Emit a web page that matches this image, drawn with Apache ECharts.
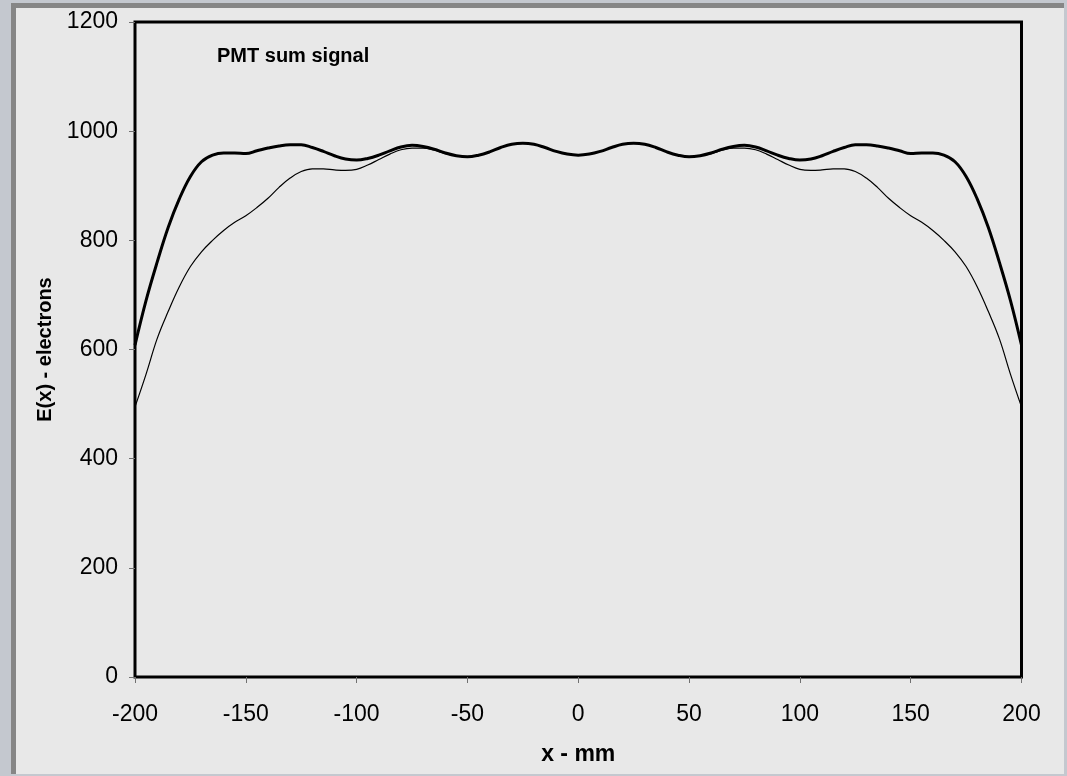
<!DOCTYPE html>
<html>
<head>
<meta charset="utf-8">
<script src="https://cdn.jsdelivr.net/npm/echarts@6/dist/echarts.min.js"></script>
<style>
  html, body { margin: 0; padding: 0; width: 1067px; height: 776px; overflow: hidden; background: #c4c8cf; }
  #frame { position: absolute; left: 11px; top: 3px; width: 1053px; height: 771px; box-sizing: border-box;
           border-left: 5px solid #868686; border-top: 5px solid #868686; background: #e8e8e8; }
  #chart { position: absolute; left: 0; top: 0; width: 1067px; height: 776px; }
</style>
</head>
<body>
<div id="frame"></div>
<div id="chart"></div>
<script>
const titleText = 'PMT sum signal';
const xName = 'x - mm';
const yName = 'E(x) - electrons';

const xPositions = [-200,-195,-190,-185,-180,-175,-170,-165,-160,-155,-150,-145,-140,-135,-130,-125,-120,-115,-110,-105,-100,-95,-90,-85,-80,-75,-70,-65,-60,-55,-50,-45,-40,-35,-30,-25,-20,-15,-10,-5,0,5,10,15,20,25,30,35,40,45,50,55,60,65,70,75,80,85,90,95,100,105,110,115,120,125,130,135,140,145,150,155,160,165,170,175,180,185,190,195,200];

const thickSignal = [608,690,760,824,876,917,944,956,960,960,959,964,969,973,975,975,970,963,955,949,947,950,956,964,971,974,972,967,960,955,953,956,962,970,976,978,976,970,963,958,956,958,963,970,976,978,976,970,962,956,953,955,960,967,972,974,971,964,956,950,947,949,955,963,970,975,975,973,969,964,959,960,960,956,944,917,876,824,760,690,608];

const thinSignal = [495,555,620,670,715,752,779,800,818,833,845,860,877,897,914,926,931,931,929,928,930,938,948,958,966,969,969,965,959,955,953,956,962,970,976,978,976,970,963,958,956,958,963,970,976,978,976,970,962,956,953,955,959,965,969,969,966,958,948,938,930,928,929,931,931,926,914,897,877,860,845,833,818,800,779,752,715,670,620,555,495];

const xMin = -200, xMax = 200, xStep = 50;
const yMin = 0, yMax = 1200, yStep = 200;

const chart = echarts.init(document.getElementById('chart'), null, { renderer: 'canvas' });
const font = '"Liberation Sans", Arial, sans-serif';

chart.setOption({
  backgroundColor: 'transparent',
  animation: false,
  title: {
    text: titleText, left: 217, top: 46, padding: 0,
    textStyle: { fontFamily: font, fontSize: 20, fontWeight: 'bold', color: '#000' }
  },
  grid: { left: 135, right: 45.5, top: 22, bottom: 99, show: true, borderColor: '#000', borderWidth: 3, backgroundColor: 'transparent' },
  xAxis: {
    type: 'value', min: xMin, max: xMax, interval: xStep,
    name: xName, nameLocation: 'middle', nameGap: 66,
    nameTextStyle: { fontFamily: font, fontSize: 23, fontWeight: 'bold', color: '#000' },
    axisLine: { show: false, onZero: false },
    axisTick: { show: true, inside: false, length: 6, lineStyle: { color: '#707070', width: 1 } },
    axisLabel: { margin: 26, fontFamily: font, fontSize: 23, color: '#000', formatter: v => String(v) },
    splitLine: { show: false }
  },
  yAxis: {
    type: 'value', min: yMin, max: yMax, interval: yStep,
    name: yName, nameLocation: 'middle', nameGap: 78, nameRotate: 90,
    nameTextStyle: { fontFamily: font, fontSize: 20, fontWeight: 'bold', color: '#000' },
    axisLine: { show: false, onZero: false },
    axisTick: { show: true, inside: false, length: 6, lineStyle: { color: '#707070', width: 1 } },
    axisLabel: { margin: 17, fontFamily: font, fontSize: 23, color: '#000', formatter: v => String(v) },
    splitLine: { show: false }
  },
  series: [
    {
      type: 'line', name: 'thin', smooth: 0.4, showSymbol: false, clip: true,
      data: xPositions.map((x, i) => [x, thinSignal[i]]),
      lineStyle: { color: '#000', width: 1.2 }
    },
    {
      type: 'line', name: 'thick', smooth: 0.4, showSymbol: false, clip: true,
      data: xPositions.map((x, i) => [x, thickSignal[i]]),
      lineStyle: { color: '#000', width: 3 }
    }
  ]
});
</script>
</body>
</html>
